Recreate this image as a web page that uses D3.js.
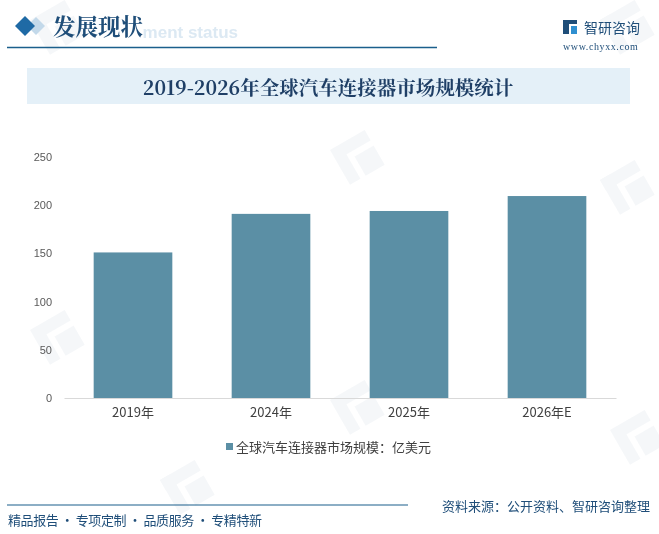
<!DOCTYPE html>
<html><head><meta charset="utf-8">
<script src="https://cdn.jsdelivr.net/npm/d3@7"></script>
<style>
html,body{margin:0;padding:0;background:#fff;}
svg{display:block;}
</style></head>
<body>
<svg id="c" width="659" height="534"></svg>
<script>
const categories = ["2019年", "2024年", "2025年", "2026年E"];
const marketSize = [151, 191, 194, 209.5];
const yTicks = [0, 50, 100, 150, 200, 250];
const seriesName = "全球汽车连接器市场规模：亿美元";
const chartTitle = "2019-2026年全球汽车连接器市场规模统计";

const svg = d3.select("#c");
const cjk = "'Noto Sans CJK SC','Microsoft YaHei',sans-serif";
const serifCjk = "'Noto Serif CJK SC','Noto Sans CJK SC',serif";

// faint logo watermarks
const wm = svg.append("g").attr("opacity", 0.045);
[[30,20],[330,150],[30,330],[600,180],[330,400],[610,430],[160,480],[600,20],[880,300]].forEach(([x,y])=>{
  const g = wm.append("g").attr("transform",`translate(${x},${y}) rotate(-30)`);
  g.append("rect").attr("x",0).attr("y",0).attr("width",12).attr("height",40).attr("fill","#1f4e79");
  g.append("rect").attr("x",0).attr("y",0).attr("width",40).attr("height",12).attr("fill","#1f4e79");
  g.append("rect").attr("x",18).attr("y",18).attr("width",22).attr("height",22).attr("fill","#1f4e79");
});

// header
svg.append("text").attr("x", 238).attr("y", 38).attr("text-anchor","end").attr("font-family","Arial,sans-serif").attr("font-weight","bold")
  .attr("font-size", 17).attr("fill", "#dce9f3").text("ment status");
svg.append("path").attr("d","M27,26 L36,17 L45,26 L36,35 Z").attr("fill","#c3d9ea");
svg.append("path").attr("d","M15,26 L25,16 L35,26 L25,36 Z").attr("fill","#1f6aa5");
svg.append("text").attr("x", 53).attr("y", 35).attr("font-family", serifCjk).attr("font-weight","bold")
  .attr("font-size", 22.5).attr("fill", "#1f4e79").text("发展现状");
svg.append("line").attr("x1",7).attr("x2",437).attr("y1",47.5).attr("y2",47.5).attr("stroke","#1b5f8c").attr("stroke-width",1.5);

// logo
const lg = svg.append("g");
lg.append("rect").attr("x",563).attr("y",20).attr("width",6).attr("height",14).attr("fill","#1f4e79");
lg.append("rect").attr("x",563).attr("y",20).attr("width",14).attr("height",4).attr("fill","#1f4e79");
lg.append("rect").attr("x",571).attr("y",26).attr("width",6).attr("height",8).attr("fill","#2f8fd0");
svg.append("text").attr("x",584).attr("y",33).attr("font-family",cjk).attr("font-size",14).attr("fill","#1f4e79").text("智研咨询");
svg.append("text").attr("x",563).attr("y",50).attr("font-family","'Liberation Serif',serif").attr("letter-spacing",0.6)
  .attr("font-size",10).attr("fill","#1f4e79").text("www.chyxx.com");

// title box
svg.append("rect").attr("x",27).attr("y",68).attr("width",603).attr("height",36).attr("fill","#e4f0f8");
svg.append("text").attr("x",328).attr("y",95).attr("text-anchor","middle").attr("font-family",serifCjk)
  .attr("font-weight","bold").attr("font-size",19.5).attr("fill","#1f3f66").text(chartTitle);

// chart
const m = {left:64, right:616, top:157, bottom:398};
const x = d3.scaleBand().domain(categories).range([m.left, m.right]).paddingInner(0.43).paddingOuter(0.215);
const y = d3.scaleLinear().domain([0,250]).range([m.bottom, m.top]);

svg.append("g").selectAll("rect").data(marketSize).join("rect")
  .attr("x",(d,i)=>x(categories[i])).attr("width",x.bandwidth())
  .attr("y",d=>y(d)).attr("height",d=>y(0)-y(d)).attr("fill","#5b8fa5");

const ya = svg.append("g").attr("transform",`translate(${m.left-12},0)`)
  .call(d3.axisLeft(y).tickValues(yTicks).tickSize(0).tickPadding(0));
ya.select(".domain").remove();
ya.selectAll("text").attr("font-family","'Liberation Sans',Arial,sans-serif").attr("font-size",11).attr("fill","#595959");

const xa = svg.append("g").attr("transform",`translate(0,${m.bottom})`)
  .call(d3.axisBottom(x).tickSize(0).tickPadding(10));
xa.select(".domain").attr("stroke","#d9d9d9").attr("stroke-width",1);
xa.selectAll("text").attr("font-family",cjk).attr("font-size",13).attr("fill","#404040");

// legend
svg.append("rect").attr("x",226).attr("y",443).attr("width",7).attr("height",7).attr("fill","#5b8fa5");
svg.append("text").attr("x",236).attr("y",452).attr("font-family",cjk).attr("font-size",13).attr("fill","#404040").text(seriesName);

// footer
svg.append("line").attr("x1",7).attr("x2",408).attr("y1",505).attr("y2",505).attr("stroke","#1b5f8c").attr("stroke-width",1.2);
svg.append("text").attr("x",8).attr("y",525).attr("font-family",cjk).attr("font-size",13).attr("fill","#1f4e79")
  .attr("textLength",254).attr("lengthAdjust","spacing").text("精品报告 · 专项定制 · 品质服务 · 专精特新");
svg.append("text").attr("x",650).attr("y",511).attr("text-anchor","end").attr("font-family",cjk).attr("font-size",13).attr("fill","#1f4e79").text("资料来源：公开资料、智研咨询整理");
</script>
</body></html>
